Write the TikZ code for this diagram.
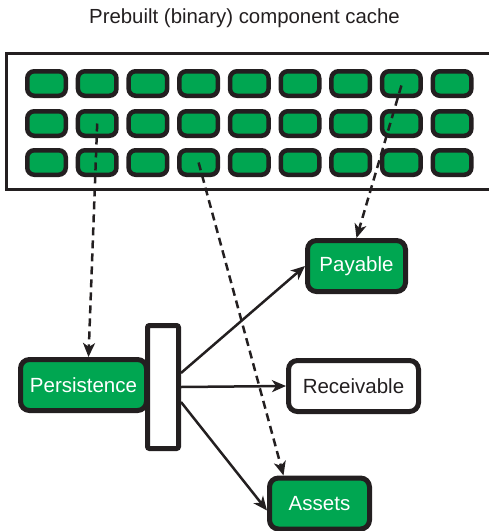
\documentclass[tikz,border=0pt]{standalone}
\usepackage{fontspec}
\setmainfont{Liberation Sans}
\usetikzlibrary{arrows.meta, positioning}
\definecolor{cgreen}{RGB}{0,166,81}
\definecolor{cdark}{RGB}{35,31,32}

\begin{document}
\begin{tikzpicture}[x=1pt,y=-1pt,
                    cell/.style={draw=cdark,line width=4.5pt,rounded corners=7pt,fill=cgreen,
                    minimum width=38.5pt,minimum height=24.5pt,inner sep=0pt},
                    comp/.style={draw=cdark,line width=5pt,rounded corners=9pt,fill=cgreen,
                    text=white,minimum height=51pt,inner sep=0pt,font=\fontsize{20.5}{24}\selectfont},
                    arr/.style={-{Stealth[length=14pt,width=12pt,inset=4pt]},cdark,line width=2.5pt},
                    darr/.style={arr,dash pattern=on 8pt off 5pt}
]
\clip (0,0) rectangle (489,531);
\node[font=\fontsize{20.4}{24}\selectfont,text=cdark] (title) at (244.5,18) {Prebuilt (binary) component cache};
\node[draw=cdark,line width=2.5pt,minimum width=489pt,minimum height=136pt,inner sep=0pt] (cache) at (251,121.5) {};
\foreach \r/\y in {1/83.5,2/123.5,3/162.5}
  \foreach \c in {1,...,9}
    \node[cell] (c\r\c) at ({46.5+50.7*(\c-1)},\y) {};
% components
\node[comp,minimum width=126pt] (pers) at (83.5,385) {Persistence};
\node[draw=cdark,line width=5pt,rounded corners=2pt,fill=white,
      minimum width=31pt,minimum height=123pt,inner sep=0pt] (bar) at (163,387) {};
\node[comp,minimum width=98pt] (pay) at (356.5,266) {Payable};
\node[comp,minimum width=130pt,fill=white,text=cdark] (rec) at (353.5,386) {Receivable};
\node[comp,minimum width=100pt] (ast) at (319.5,503.5) {Assets};
\draw[arr] ([yshift=14pt]bar.east) -- (pay.west);
\draw[arr] (bar.east) -- (rec.west);
\draw[arr] ([yshift=-15pt]bar.east) -- ([yshift=-7pt]ast.west);
\draw[darr] (c22.center) -- ([xshift=5pt]pers.north);
\draw[darr] (c34.center) -- ([xshift=-36pt]ast.north);
\draw[darr] ([yshift=-2pt]c18.center) -- (pay.north);
\end{tikzpicture}
\end{document}
